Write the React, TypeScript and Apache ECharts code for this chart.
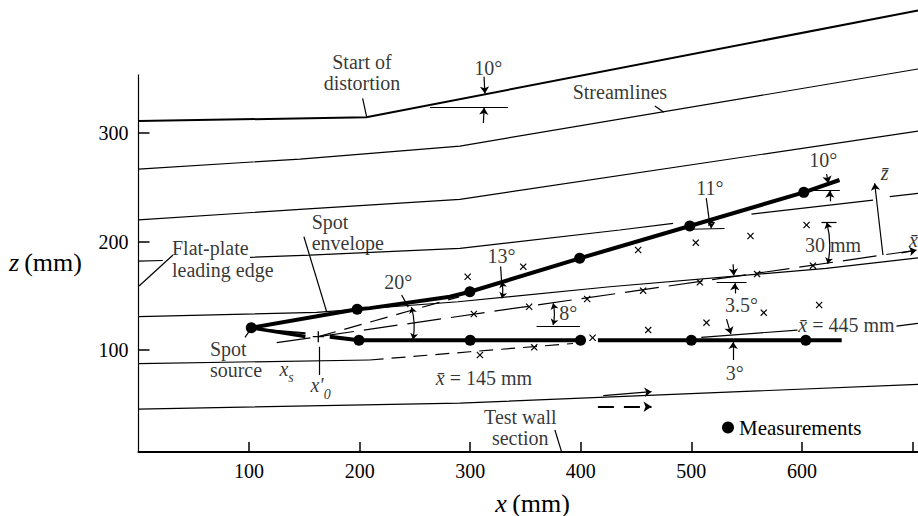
import React, { useEffect, useRef } from 'react';
import * as echarts from 'echarts';

const SERIF = 'Liberation Serif';

// axis ticks / labels
const xTicks = [100, 200, 300, 400, 500, 600, 700];
const xLabels = [100, 200, 300, 400, 500, 600];
const zTicks = [100, 200, 300];

// streamlines (x mm, z mm)
const streamA = [[0, 311], [206, 314.5], [705, 413]];
const streamB = [[0, 266.8], [146, 276], [290.7, 288], [705, 359]];
const streamC = [[0, 220], [146, 229.6], [290.7, 238.9], [705, 301.8]];
const streamD1 = [[0, 182], [22, 182.5]];
const streamD2 = [[100.8, 185.4], [155, 187.5], [290.7, 193.7], [435.3, 210.6], [483.5, 216.8]];
const streamD3 = [[554.4, 225.3], [664.4, 238.2]];
const streamD4 = [[679.5, 241.3], [705, 244.4]];
const streamE = [[0, 130.7], [161, 134.7], [289, 144.5], [426.3, 158.3], [622, 175.3], [705, 185]];
const streamF1 = [[0, 87.5], [209, 90.8]];
const streamF2 = [[209, 90.8], [299.7, 98.4], [393, 106]];
const streamF3 = [[509, 111.7], [596, 118.4]];
const streamF4 = [[685.5, 122], [705, 124.6]];
const streamG = [[0, 45.6], [290.7, 51], [705, 68.4]];

// spot envelope
const upperEnvelope = [[102, 120.5], [197.8, 137.5], [209.3, 138.6], [281.6, 149.1], [299.7, 153.7], [399, 184.5], [498.6, 214.3], [601.7, 245.3], [634, 256.7]];
const sourceWedgeOuter = [[102, 120.5], [151, 112.5]];
const sourceWedgeInner = [[110, 119], [151, 115.5]];
const lowerEnvelope1 = [[173, 112.3], [199.4, 109], [300, 109], [399.8, 109]];
const lowerEnvelope2 = [[415.5, 109], [500, 109], [603.5, 109], [636, 109]];

// measurements
const upperDots = [[102, 120.5], [197.8, 137.5], [299.7, 153.7], [399, 184.5], [498.6, 214.3], [601.7, 245.3]];
const lowerDots = [[199.4, 109], [300, 109], [399.8, 109], [500, 109], [603.5, 109]];

// local axes / dashed lines
const xBarLine = [[125, 106.8], [162.6, 112.3], [700, 191.5]];
const line20 = [[162.6, 112.3], [290, 149]];
const virtualOrigin = [[162.6, 112.3]];

// x marks
const xBarMarks = [[303.3, 133.2], [353.3, 139.9], [405.8, 147], [456.4, 154.7], [507.7, 162.4], [559.5, 170], [610, 177.7]];
const upperMarks = [[297.7, 167.5], [348, 176.8], [451.9, 192.2], [504, 198.9], [553.5, 205.1], [604.2, 215.2]];
const lowerMarks = [[308.8, 95.4], [357.9, 102.5], [410.7, 111.3], [461, 118.4], [513.7, 125.2], [565.5, 134.4], [615.6, 141.5]];

// annotation geometry (data coordinates)
const leaderLines = [
  [[202.7, 331.9], [206.3, 315]],
  [[467, 324.9], [475.2, 319.1]],
  [[149.6, 204.4], [170.2, 135.3]],
  [[0.5, 159], [31.2, 187.6]],
  [[96.3, 111.7], [100.8, 118.4]],
  [[163.5, 103], [163.5, 77]],
  [[376.6, 26.3], [382.6, 6.3]],
  [[238, 150.7], [244, 139.5]],
  [[327.5, 177], [328.4, 163]],
  [[513.5, 240], [516, 221]],
  [[0, 6], [0, 354]],
];
const refLines = [
  [[263.6, 324], [334, 324]],
  [[360, 122.1], [399.2, 122.1]],
  [[522.8, 162.4], [549.9, 162.4]],
  [[498.6, 211.3], [530, 212]],
  [[604.2, 247.5], [634.3, 247.5]],
  [[617.7, 218.2], [631.3, 218.2]],
];
const doubleArrows = [
  [[246.8, 139.5], [248.3, 109.8]],
  [[328.4, 163], [328.7, 147.6]],
  [[375, 143], [375, 123]],
  [[516, 220.5], [518, 212.3]],
  [[622.5, 217.5], [623.4, 179.5]],
];
const singleArrows = [
  [[312.5, 352], [313.3, 336.5]],
  [[311.9, 309.2], [312.6, 323.2]],
  [[622.3, 262], [624, 253.8]],
  [[625.3, 237], [625.2, 246.8]],
  [[537.8, 179], [538.4, 168.6]],
  [[539.3, 152], [539.3, 161.6]],
  [[531.8, 128.5], [535.8, 114.7]],
  [[537.8, 90.8], [537.8, 107.5]],
  [[673.3, 187.6], [665.8, 253.7]],
  [[690, 189.5], [703.6, 192]],
  [[420.3, 57.9], [464, 61.6]],
];
const dashedArrow = [[[415.5, 47.7], [464, 47.7]]];

const textLabels = [
  ['Start of', 202.1, 365.4, 'center'],
  ['distortion', 202.1, 346.1, 'center'],
  ['10°', 316.3, 359.6, 'center'],
  ['Streamlines', 435.4, 338, 'center'],
  ['10°', 619.2, 275.1, 'center'],
  ['11°', 516.7, 249, 'center'],
  ['Spot', 156.6, 218.2, 'left'],
  ['envelope', 156.6, 198.9, 'left'],
  ['Flat-plate', 30.3, 193.7, 'left'],
  ['leading edge', 30.3, 173.7, 'left'],
  ['13°', 328.4, 186.6, 'center'],
  ['20°', 234.9, 163, 'center'],
  ['8°', 388.6, 133.8, 'center'],
  ['3.5°', 545.4, 141.5, 'center'],
  ['3°', 539.3, 78.5, 'center'],
  ['30 mm', 628.2, 196.8, 'center'],
  ['Spot', 64.6, 100.6, 'left'],
  ['source', 64.6, 81.6, 'left'],
  ['Test wall', 345.3, 38.5, 'center'],
  ['section', 345.3, 18.6, 'center'],
  ['{i|x\u0304} = 145 mm', 312.4, 73.9, 'center'],
  ['{i|x\u0304} = 445 mm', 640.3, 123, 'center'],
  ['{i|x}{sub|s}', 134, 80, 'center'],
  ['{i|x\u2032}{sub|0}', 164.7, 64.7, 'center'],
  ['{i|z\u0304}', 674.9, 262.9, 'center'],
  ['{i|x\u0304}', 705, 201.4, 'right'],
];

const CROSS = 'path://M0,1.2L1.2,0L5,3.8L8.8,0L10,1.2L6.2,5L10,8.8L8.8,10L5,6.2L1.2,10L0,8.8L3.8,5Z';
const PLUS = 'path://M4.4,0H5.6V4.4H10V5.6H5.6V10H4.4V5.6H0V4.4H4.4Z';

const rich = {
  i: { fontFamily: SERIF, fontStyle: 'italic', fontSize: 20, color: '#000', lineHeight: 20, verticalAlign: 'top' },
  sub: { fontFamily: SERIF, fontStyle: 'italic', fontSize: 14, color: '#000', lineHeight: 26, verticalAlign: 'bottom' },
};

function line(data: number[][], width: number, type: any = 'solid', z = 2) {
  return { type: 'line', data, symbol: 'none', silent: true, clip: false, lineStyle: { color: '#000', width, type, opacity: 1 }, z };
}

function lines(data: number[][][], symbol: string[], width = 1, curveness = 0, type: any = 'solid', symbolSize = 7) {
  return {
    type: 'lines', coordinateSystem: 'cartesian2d', polyline: false, silent: true,
    symbol, symbolSize,
    lineStyle: { color: '#000', width, curveness, type, opacity: 1 },
    data: data.map((c) => ({ coords: c })), z: 3,
  };
}

export default function App() {
  const ref = useRef<HTMLDivElement>(null);
  useEffect(() => {
    if (!ref.current) return;
    const chart = echarts.init(ref.current, null, { renderer: 'svg' });
    const option: any = {
      animation: false,
      backgroundColor: '#fff',
      grid: { left: 138.5, right: 0, top: 0, bottom: 64, containLabel: false },
      xAxis: {
        type: 'value', min: 0, max: 705,
        axisLine: { show: true, lineStyle: { color: '#000', width: 2 } },
        axisTick: { show: true, inside: true, length: 10, customValues: xTicks, lineStyle: { color: '#000', width: 1.5 } },
        axisLabel: { customValues: xLabels, margin: 9, fontFamily: SERIF, fontSize: 20, color: '#000' },
        splitLine: { show: false },
      },
      yAxis: {
        type: 'value', min: 6, max: 422.6,
        axisLine: { show: false },
        axisTick: { show: true, inside: true, length: 11, customValues: zTicks, lineStyle: { color: '#000', width: 1.5 } },
        axisLabel: { customValues: zTicks, margin: 10, fontFamily: SERIF, fontSize: 20, color: '#000' },
        splitLine: { show: false },
      },
      legend: {
        data: ['Measurements'], left: 717, top: 412, itemWidth: 12, itemHeight: 12, icon: 'circle',
        selectedMode: false, textStyle: { fontFamily: SERIF, fontSize: 21, color: '#000' },
        itemStyle: { opacity: 1, color: '#000' },
      },
      graphic: [
        { type: 'text', x: 14, y: 262, style: { text: 'z', font: `italic 26px ${SERIF}`, fill: '#000', textAlign: 'center', textVerticalAlign: 'middle' } },
        { type: 'text', x: 53, y: 262, style: { text: '(mm)', font: `26px ${SERIF}`, fill: '#000', textAlign: 'center', textVerticalAlign: 'middle' } },
        { type: 'text', x: 501, y: 503, style: { text: 'x', font: `italic 26px ${SERIF}`, fill: '#000', textAlign: 'center', textVerticalAlign: 'middle' } },
        { type: 'text', x: 541, y: 503, style: { text: '(mm)', font: `26px ${SERIF}`, fill: '#000', textAlign: 'center', textVerticalAlign: 'middle' } },
      ],
      series: [
        line(streamA, 2),
        line(streamB, 1.2),
        line(streamC, 1.2),
        line(streamD1, 1.2),
        line(streamD2, 1.2),
        line(streamD3, 1.2),
        line(streamD4, 1.2),
        line(streamE, 1.2),
        line(streamF1, 1.2),
        line(streamF2, 1.2, [14, 8]),
        line(streamF3, 1.2),
        line(streamF4, 1.2),
        line(streamG, 1.2),
        line(xBarLine, 1.2, [34, 10]),
        line(line20, 1.2, [18, 9]),
        line(upperEnvelope, 4, 'solid', 4),
        line(sourceWedgeOuter, 3.5, 'solid', 4),
        line(sourceWedgeInner, 2, 'solid', 4),
        line(lowerEnvelope1, 4, 'solid', 4),
        line(lowerEnvelope2, 4, 'solid', 4),
        lines(leaderLines, ['none', 'none'], 1.2),
        lines(refLines, ['none', 'none'], 1.2),
        lines(doubleArrows, ['arrow', 'arrow'], 1.2, 0.12, 'solid', 6),
        lines(singleArrows, ['none', 'arrow'], 1.2, 0, 'solid', 7),
        lines(dashedArrow, ['none', 'arrow'], 2, 0, [16, 10], 8),
        {
          type: 'scatter', name: 'Measurements', data: [...upperDots, ...lowerDots], symbol: 'circle', symbolSize: 11,
          itemStyle: { color: '#000', opacity: 1 }, silent: true, z: 5,
        },
        {
          type: 'scatter', name: 'marks', data: [...xBarMarks, ...upperMarks, ...lowerMarks], symbol: CROSS, symbolSize: 7,
          itemStyle: { color: '#000', opacity: 1 }, silent: true, z: 5,
        },
        {
          type: 'scatter', name: 'origin', data: virtualOrigin, symbol: PLUS, symbolSize: 11,
          itemStyle: { color: '#000', opacity: 1 }, silent: true, z: 5,
        },
        {
          type: 'scatter', name: 'texts', silent: true, clip: false, symbolSize: 1, z: 6,
          itemStyle: { color: 'rgba(0,0,0,0)' },
          data: textLabels.map(([t, x, z, a]) => ({
            value: [x, z],
            label: {
              show: true, position: 'inside', formatter: t as string, align: a as string, verticalAlign: 'middle',
              fontFamily: SERIF, fontSize: 20, color: '#000', rich,
            },
          })),
        },
      ],
    };
    chart.setOption(option);
    return () => chart.dispose();
  }, []);
  return <div ref={ref} style={{ position: 'fixed', left: 0, top: 0, width: 918, height: 516, background: '#fff' }} />;
}
